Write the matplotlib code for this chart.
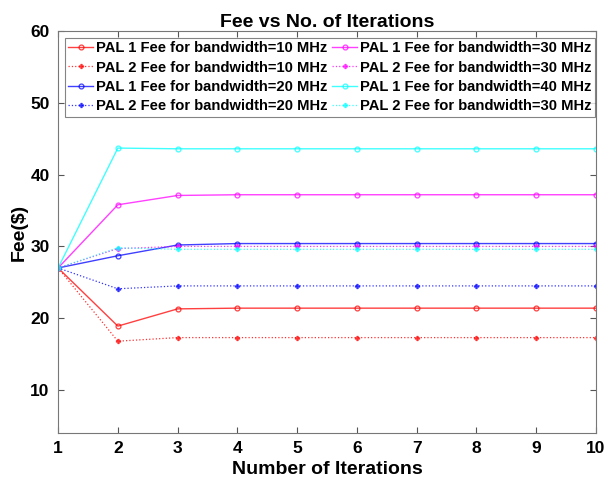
import matplotlib.pyplot as plt

plt.rcParams['font.family'] = ['Liberation Sans', 'DejaVu Sans']
plt.rcParams['font.weight'] = 'bold'

iteracoes = list(range(1, 11))

pal1_10 = [27, 18.9, 21.3, 21.4, 21.4, 21.4, 21.4, 21.4, 21.4, 21.4]
pal2_10 = [27, 16.8, 17.3, 17.3, 17.3, 17.3, 17.3, 17.3, 17.3, 17.3]
pal1_20 = [27, 28.7, 30.2, 30.4, 30.4, 30.4, 30.4, 30.4, 30.4, 30.4]
pal2_20 = [27, 24.1, 24.5, 24.5, 24.5, 24.5, 24.5, 24.5, 24.5, 24.5]
pal1_30 = [27, 35.8, 37.1, 37.2, 37.2, 37.2, 37.2, 37.2, 37.2, 37.2]
pal2_30 = [27, 29.7, 30.0, 30.0, 30.0, 30.0, 30.0, 30.0, 30.0, 30.0]
pal1_40 = [27, 43.7, 43.6, 43.6, 43.6, 43.6, 43.6, 43.6, 43.6, 43.6]
pal2_40 = [27, 29.8, 29.6, 29.6, 29.6, 29.6, 29.6, 29.6, 29.6, 29.6]

series = [
    (pal1_10, 'PAL 1 Fee for bandwidth=10 MHz', 'red', '-', 'o'),
    (pal2_10, 'PAL 2 Fee for bandwidth=10 MHz', 'red', ':', 'P'),
    (pal1_20, 'PAL 1 Fee for bandwidth=20 MHz', 'blue', '-', 'o'),
    (pal2_20, 'PAL 2 Fee for bandwidth=20 MHz', 'blue', ':', 'P'),
    (pal1_30, 'PAL 1 Fee for bandwidth=30 MHz', 'magenta', '-', 'o'),
    (pal2_30, 'PAL 2 Fee for bandwidth=30 MHz', 'magenta', ':', 'P'),
    (pal1_40, 'PAL 1 Fee for bandwidth=40 MHz', 'cyan', '-', 'o'),
    (pal2_40, 'PAL 2 Fee for bandwidth=30 MHz', 'cyan', ':', 'P'),
]

fig = plt.figure(figsize=(6.05, 4.78), dpi=100)
ax = fig.add_axes([0.096, 0.094, 0.889, 0.841])

for valores, rotulo, cor, estilo, marca in series:
    if marca == 'o':
        ax.plot(iteracoes, valores, color=cor, linestyle=estilo, linewidth=1.0,
                marker='o', markersize=3.5, markerfacecolor='none',
                markeredgewidth=0.9, alpha=0.75, label=rotulo)
    else:
        ax.plot(iteracoes, valores, color=cor, linestyle=estilo, linewidth=0.9,
                marker='P', markersize=3.5, markeredgewidth=0.3, alpha=0.8,
                label=rotulo)

ax.set_xlim(1, 10)
ax.set_ylim(4, 60)
ax.set_xticks(iteracoes)
ax.set_yticks([10, 20, 30, 40, 50, 60])
ax.tick_params(direction='in', top=True, right=True, labelsize=12.5,
               length=4, color='#555555', pad=6)
for lado in ax.spines.values():
    lado.set_color('#777777')

ax.set_xlabel('Number of Iterations', fontsize=14, fontweight='bold', labelpad=3)
ax.set_ylabel('Fee($)', fontsize=14, fontweight='bold', labelpad=2)
ax.set_title('Fee vs No. of Iterations', fontsize=14, fontweight='bold', pad=3)

leg = ax.legend(loc='upper left', ncol=2, fontsize=10.6, frameon=True,
                fancybox=False, edgecolor='#666666', handlelength=1.7,
                handletextpad=0.2, columnspacing=0.3, labelspacing=0.35,
                borderpad=0.25, borderaxespad=0.45)
leg.get_frame().set_linewidth(0.8)

plt.savefig('out.png', dpi=100)
